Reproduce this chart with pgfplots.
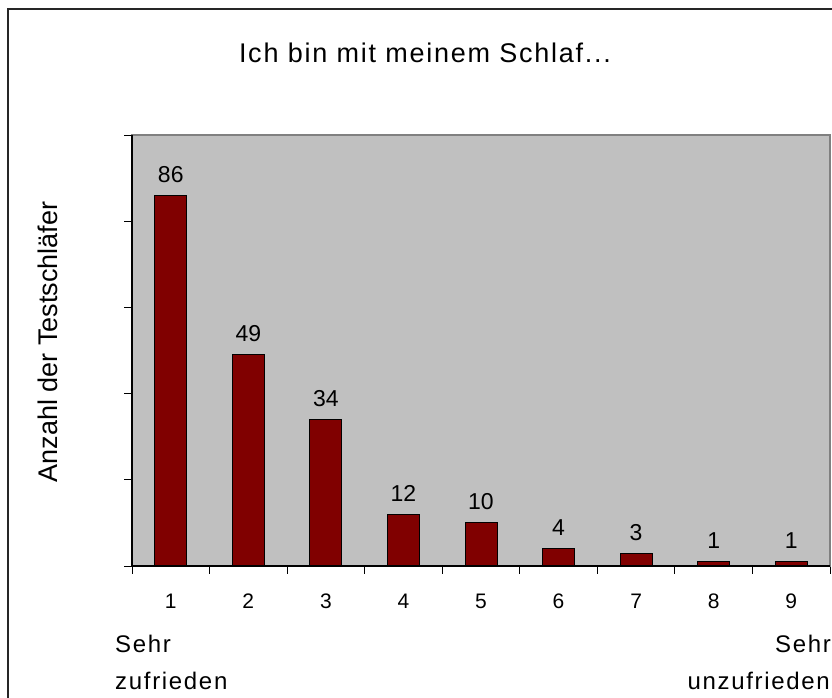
\documentclass[border=0pt]{standalone}
\usepackage{fontspec}
\setmainfont{Liberation Sans}
\newfontfamily\spacedT{Liberation Sans}[LetterSpace=6.5]
\newfontfamily\spaced{Liberation Sans}[LetterSpace=7]
\usepackage{pgfplots}
\pgfplotsset{compat=1.18}
\definecolor{plotgray}{HTML}{C0C0C0}
\definecolor{bordergray}{HTML}{808080}
\definecolor{barred}{HTML}{800000}
\begin{document}
\begin{tikzpicture}
\useasboundingbox (0,0) rectangle (832bp,698bp);
\fill[white] (0,0) rectangle (832bp,698bp);
\draw[line width=1.3bp, black!85] (8bp,-5bp) -- (8bp,689bp) -- (840bp,689bp);
\node[font=\spacedT\fontsize{27bp}{30bp}\selectfont, anchor=base] at (425bp,635bp) {Ich bin mit meinem Schlaf...};
\node[font=\fontsize{27bp}{30bp}\selectfont, rotate=90, anchor=base] at (57bp,356bp) {Anzahl der Testschläfer};
\node[font=\spaced\fontsize{24bp}{26bp}\selectfont, anchor=base west, inner sep=0pt] at (115bp,45bp) {Sehr};
\node[font=\spaced\fontsize{24bp}{26bp}\selectfont, anchor=base west, inner sep=0pt] at (115bp,9bp) {zufrieden};
\node[font=\spaced\fontsize{24bp}{26bp}\selectfont, anchor=base east, inner sep=0pt] at (831bp,45bp) {Sehr};
\node[font=\spaced\fontsize{24bp}{26bp}\selectfont, anchor=base east, inner sep=0pt] at (830bp,9bp) {unzufrieden};
\begin{axis}[
  at={(132bp,132bp)}, anchor=south west,
  scale only axis, width=698bp, height=431bp,
  xmin=0.5, xmax=9.5, ymin=0, ymax=100,
  ybar, bar width=32bp,
  axis background/.style={fill=plotgray},
  axis line style={draw=bordergray, line width=1.3bp},
  xtick={1,...,9},
  major x tick style={draw=none},
  minor xtick={0.5,1.5,...,9.5},
  minor tick length=8bp,
  minor x tick style={black, line width=0.8bp},
  ytick={0,20,...,100}, yticklabels={},
  major tick length=8bp,
  tick align=outside,
  y tick style={black, line width=0.8bp},
  xtick pos=bottom, ytick pos=left,
  /pgf/number format/assume math mode=true,
  xticklabel style={font=\fontsize{21bp}{24bp}\selectfont, anchor=base, yshift=-34bp},
  nodes near coords,
  every node near coord/.append style={font=\fontsize{23bp}{26bp}\selectfont, black, anchor=base, yshift=13bp},
  clip=false,
]
\addplot[fill=barred, draw=black, line width=0.8bp] coordinates {
(1,86) (2,49) (3,34) (4,12) (5,10) (6,4) (7,3) (8,1) (9,1)};
\draw[black, line width=1.3bp] (rel axis cs:0,1) -- (rel axis cs:0,0) -- (rel axis cs:1,0);
\end{axis}
\end{tikzpicture}
\end{document}
